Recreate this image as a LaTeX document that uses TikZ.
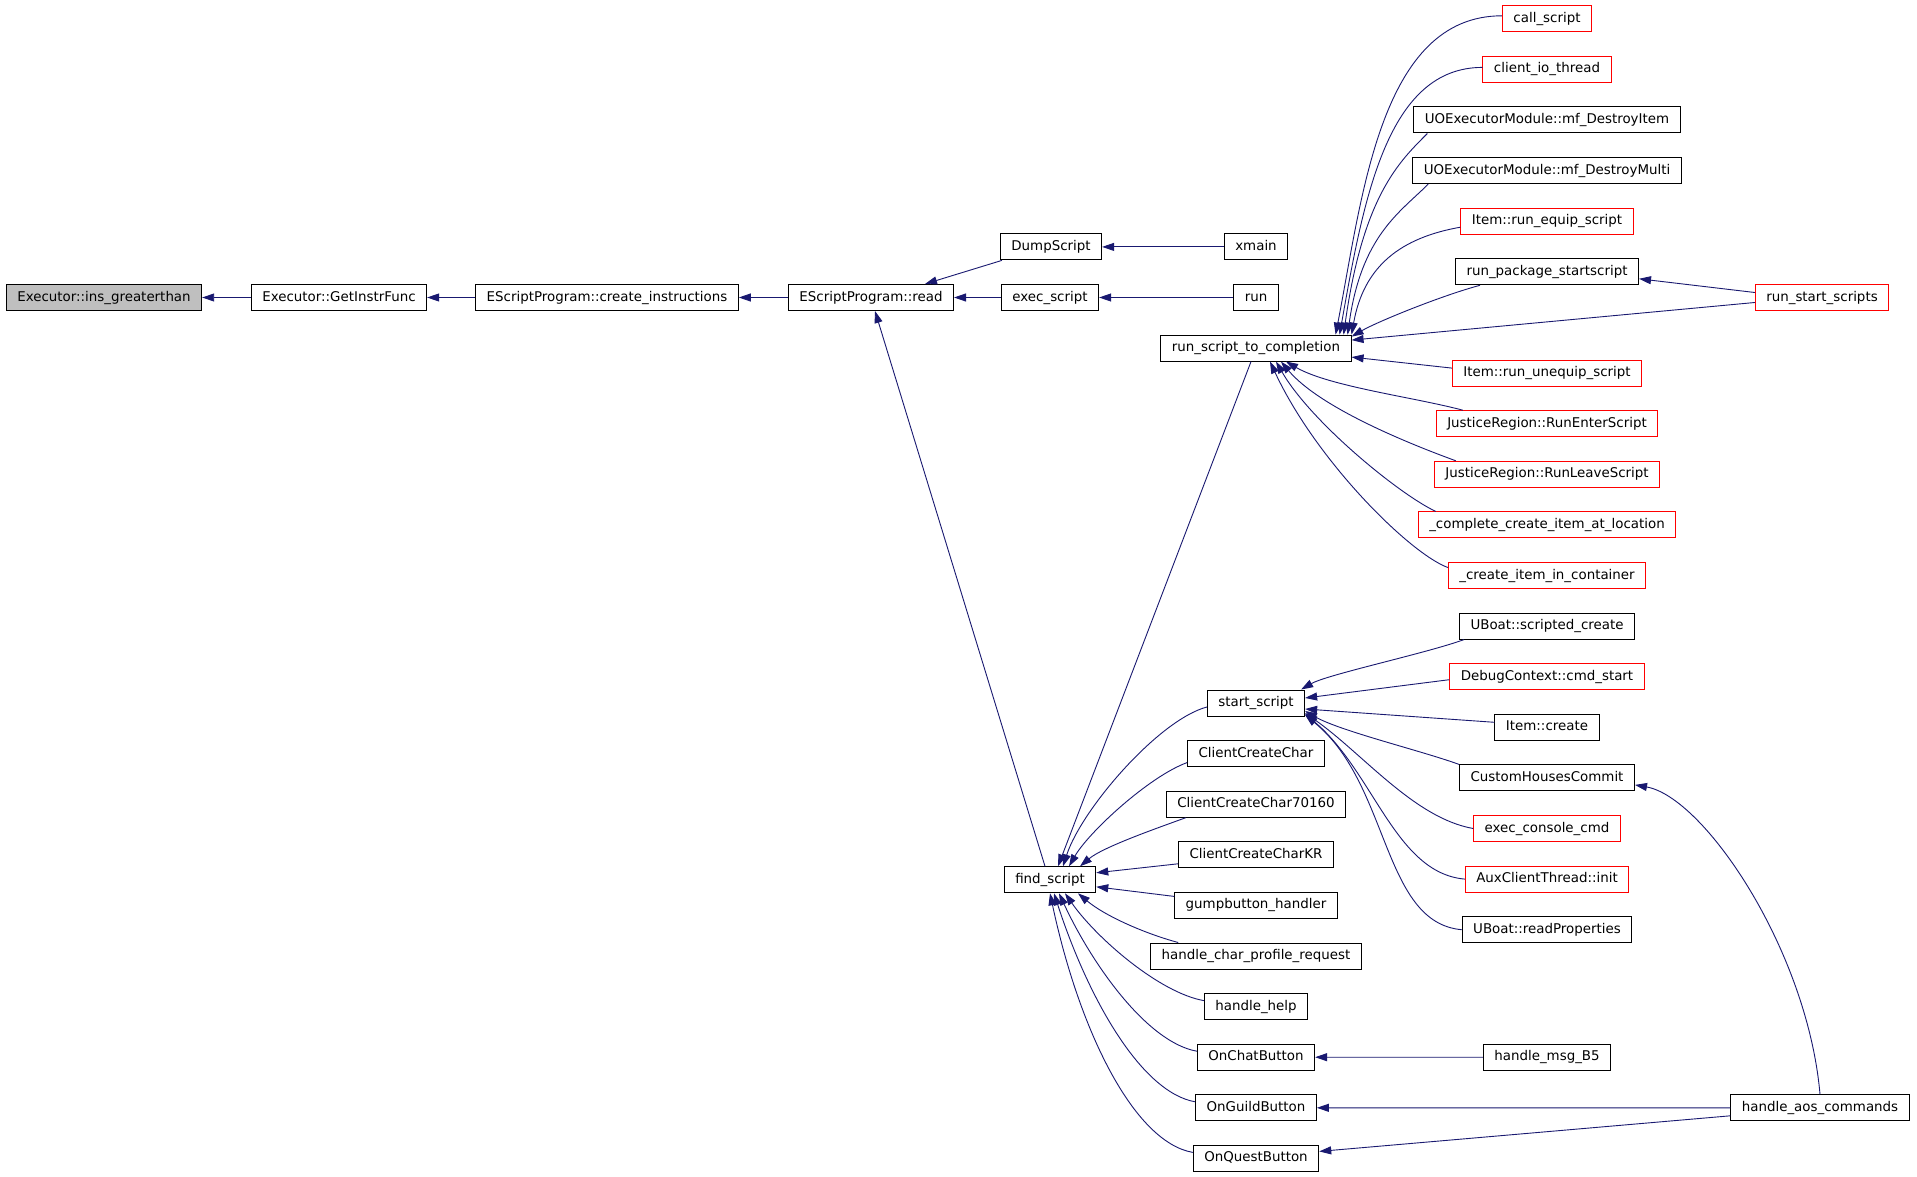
\documentclass[tikz,border=0pt]{standalone}
\usepackage{fontspec}
\setmainfont{DejaVu Sans}
\usetikzlibrary{positioning,arrows.meta}

\definecolor{edgeblue}{HTML}{191970}
\definecolor{selfgray}{HTML}{BFBFBF}

\begin{document}
\begin{tikzpicture}[x=1pt, y=1pt, node distance=23.6pt,
  fn/.style={draw=black, line width=1pt, fill=white, minimum height=26pt,
    inner xsep=11pt, inner ysep=0pt, text height=10pt, text depth=3pt,
    font=\fontsize{13.4pt}{16pt}\selectfont},
  fnred/.style={fn, draw=red},
  fnself/.style={fn, fill=selfgray},
  call/.style={draw=edgeblue, line width=0.9pt, -{Triangle[length=12pt,width=8pt]}}]
\path[use as bounding box, fill=white] (0,0) rectangle (1917,-1177);

\node[fnself] (igt)    at (104,-297.5)     {Executor::ins\_greaterthan};
\node[fn]     (gif)    at (339,-297.5)     {Executor::GetInstrFunc};
\node[fn]     (ci)     at (607,-297.5)     {EScriptProgram::create\_instructions};
\node[fn]     (read)   at (871,-297.5)     {EScriptProgram::read};
\node[fn]     (dump)   at (1051,-246.9)    {DumpScript};
\node[fn]     (exec)   at (1050,-297.5)    {exec\_script};
\node[fn]     (xmain)  at (1256,-246.9)    {xmain};
\node[fn]     (run)    at (1256,-297.5)    {run};
\node[fn]     (rstc)   at (1256,-348.1)    {run\_script\_to\_completion};
\node[fn]     (find)   at (1050,-879.8)    {find\_script};

\node[fnred]  (call)   at (1547,-18.8)     {call\_script};
\node[fnred]  (cio)    [below=of call]     {client\_io\_thread};
\node[fn]     (dti)    [below=of cio]      {UOExecutorModule::mf\_DestroyItem};
\node[fn]     (dtm)    [below=of dti]      {UOExecutorModule::mf\_DestroyMulti};
\node[fnred]  (equip)  [below=of dtm]      {Item::run\_equip\_script};
\node[fn]     (pkg)    [below=of equip]    {run\_package\_startscript};
\node[fnred]  (rss)    at (1822,-297.5)    {run\_start\_scripts};
\node[fnred]  (uneq)   [below=74.3pt of pkg] {Item::run\_unequip\_script};
\node[fnred]  (enter)  [below=of uneq]     {JusticeRegion::RunEnterScript};
\node[fnred]  (leave)  [below=of enter]    {JusticeRegion::RunLeaveScript};
\node[fnred]  (cpl)    [below=of leave]    {\_complete\_create\_item\_at\_location};
\node[fnred]  (cin)    [below=of cpl]      {\_create\_item\_in\_container};
\node[fn]     (scr)    [below=of cin]      {UBoat::scripted\_create};
\node[fnred]  (dbg)    [below=of scr]      {DebugContext::cmd\_start};
\node[fn]     (icr)    [below=of dbg]      {Item::create};
\node[fn]     (chc)    [below=of icr]      {CustomHousesCommit};
\node[fnred]  (ecc)    [below=of chc]      {exec\_console\_cmd};
\node[fnred]  (aux)    [below=of ecc]      {AuxClientThread::init};
\node[fn]     (urp)    [below=of aux]      {UBoat::readProperties};
\node[fn]     (msgb5)  at (1547,-1057.2)   {handle\_msg\_B5};
\node[fn]     (aos)    at (1820,-1107.8)   {handle\_aos\_commands};

\node[fn]     (start)  at (1256,-703.0)    {start\_script};
\node[fn]     (ccc)    [below=of start]    {ClientCreateChar};
\node[fn]     (cc70)   [below=of ccc]      {ClientCreateChar70160};
\node[fn]     (cckr)   [below=of cc70]     {ClientCreateCharKR};
\node[fn]     (gump)   [below=of cckr]     {gumpbutton\_handler};
\node[fn]     (hcp)    [below=of gump]     {handle\_char\_profile\_request};
\node[fn]     (help)   [below=of hcp]      {handle\_help};
\node[fn]     (chat)   [below=of help]     {OnChatButton};
\node[fn]     (guild)  [below=of chat]     {OnGuildButton};
\node[fn]     (quest)  [below=of guild]    {OnQuestButton};

\path    (gif)     edge[call]    (igt);
\path    (ci)      edge[call]    (gif);
\path    (read)    edge[call]    (ci);
\path    (exec)    edge[call]    (read);
\path    (xmain)   edge[call]    (dump);
\path    (run)     edge[call]    (exec);
\path    ([xshift=2pt]dump.south west)    edge[call]    ([xshift=54pt]read.north);
\path    ([xshift=-5pt]find.north)        edge[call]    ([xshift=4pt]read.south);
\path    ([xshift=-5pt]rstc.south)        edge[call]    ([xshift=8pt]find.north);

\path    ([yshift=3pt]call.west)          edge[call, out=180, in=79, out distance=122pt, in distance=140pt] ([xshift=-16pt]rstc.north east);
\path    ([yshift=2pt]cio.west)           edge[call, out=180, in=80, out distance=95pt, in distance=139pt]  ([xshift=-12pt]rstc.north east);
\path    ([xshift=14pt]dti.south west)    edge[call, out=225, in=82, out distance=40pt, in distance=140pt]  ([xshift=-8pt]rstc.north east);
\path    ([xshift=16pt]dtm.south west)    edge[call, out=225, in=82, out distance=40pt, in distance=100pt]  ([xshift=-4pt]rstc.north east);
\path    ([yshift=-6pt]equip.west)        edge[call, out=190, in=80, out distance=60pt, in distance=70pt]   (rstc.north east);
\path    ([xshift=25pt]pkg.south west)    edge[call, out=195, in=30, out distance=40pt, in distance=30pt]   ([yshift=-2pt]rstc.north east);
\path    ([yshift=-5pt]rss.west)          edge[call]    ([yshift=8pt]rstc.east);
\path    ([yshift=5pt]rss.west)           edge[call]    ([yshift=-7pt]pkg.east);
\path    ([yshift=5pt]uneq.west)          edge[call]    ([yshift=-9pt]rstc.east);
\path    ([xshift=27pt]enter.north west)  edge[call, out=165, in=-30, out distance=50pt, in distance=50pt]  ([xshift=30pt]rstc.south);
\path    ([xshift=22pt]leave.north west)  edge[call, out=160, in=-50, out distance=50pt, in distance=60pt]  ([xshift=25pt]rstc.south);
\path    ([xshift=18pt]cpl.north west)    edge[call, out=155, in=-60, out distance=40pt, in distance=70pt]  ([xshift=20pt]rstc.south);
\path    ([yshift=8pt]cin.west)           edge[call, out=160, in=-65, out distance=40pt, in distance=110pt] ([xshift=14pt]rstc.south);

\path    ([xshift=5pt]scr.south west)     edge[call, out=200, in=30, out distance=40pt, in distance=30pt]   ([xshift=-4pt]start.north east);
\path    ([yshift=-3pt]dbg.west)          edge[call]    ([yshift=5pt]start.east);
\path    ([yshift=5pt]icr.west)           edge[call]    ([yshift=-6pt]start.east);
\path    (chc.north west)                 edge[call, out=160, in=-30, out distance=40pt, in distance=40pt]  ([yshift=-8pt]start.east);
\path    (ecc.west)                       edge[call, out=170, in=-35, out distance=60pt, in distance=70pt]  ([yshift=-10pt]start.east);
\path    (aux.west)                       edge[call, out=175, in=-40, out distance=70pt, in distance=90pt]  ([yshift=-11pt]start.east);
\path    (urp.west)                       edge[call, out=175, in=-39, out distance=80pt, in distance=109pt] ([yshift=-12pt]start.east);

\path    ([yshift=-4pt]start.west)        edge[call, out=195, in=72, out distance=50pt, in distance=60pt]   ([xshift=13pt]find.north);
\path    ([yshift=-9pt]ccc.west)          edge[call, out=200, in=60, out distance=40pt, in distance=40pt]   ([xshift=19pt]find.north);
\path    ([xshift=20pt]cc70.south west)   edge[call, out=200, in=40, out distance=30pt, in distance=30pt]   ([xshift=30pt]find.north);
\path    ([yshift=-9pt]cckr.west)         edge[call]    ([yshift=7pt]find.east);
\path    ([yshift=9pt]gump.west)          edge[call]    ([yshift=-7pt]find.east);
\path    ([xshift=28pt]hcp.north west)    edge[call, out=165, in=-40, out distance=35pt, in distance=35pt]  ([xshift=28pt]find.south);
\path    ([yshift=6pt]help.west)          edge[call, out=170, in=-55, out distance=45pt, in distance=55pt]  ([xshift=15pt]find.south);
\path    ([yshift=6pt]chat.west)          edge[call, out=170, in=-65, out distance=50pt, in distance=80pt]  ([xshift=9pt]find.south);
\path    ([yshift=6pt]guild.west)         edge[call, out=170, in=-72, out distance=55pt, in distance=110pt] ([xshift=4pt]find.south);
\path    ([yshift=6pt]quest.west)         edge[call, out=170, in=-78, out distance=60pt, in distance=140pt] ([xshift=0pt]find.south);

\path    (aos.north)                      edge[call, out=95, in=-10, out distance=145pt, in distance=70pt]  ([yshift=-7pt]chc.east);
\path    (aos)     edge[call]    (guild);
\path    ([yshift=-8pt]aos.west)          edge[call]    ([yshift=7pt]quest.east);
\path    (msgb5)   edge[call]    (chat);
\end{tikzpicture}
\end{document}
